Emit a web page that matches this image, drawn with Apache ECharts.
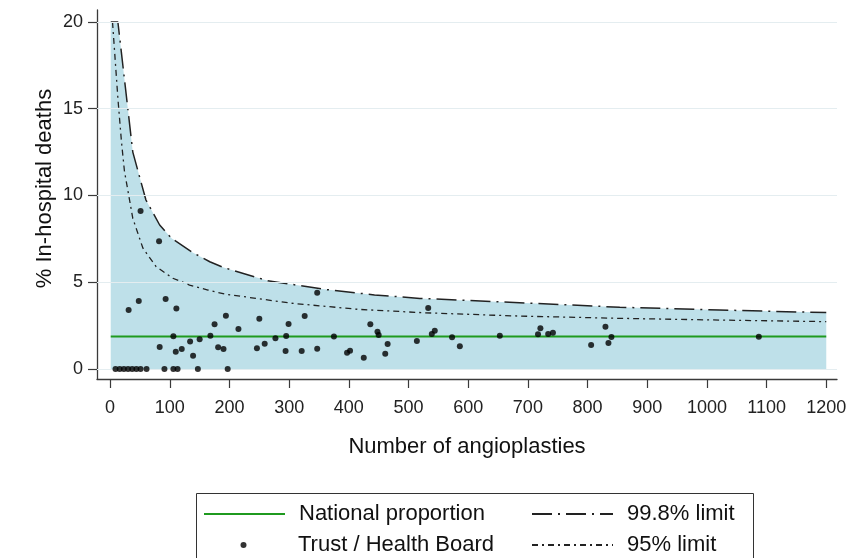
<!DOCTYPE html>
<html><head><meta charset="utf-8">
<script src="https://cdn.jsdelivr.net/npm/echarts@6/dist/echarts.min.js"></script>
<style>html,body{margin:0;padding:0;background:#fff}#c{width:859px;height:558px}</style>
</head><body><div id="c"></div>
<script>
// ---- data ----
const xTicks = [0,100,200,300,400,500,600,700,800,900,1000,1100,1200];
const yTicks = [0,5,10,15,20];
const nationalProportion = 1.88;
const nationalRange = [1, 1200];
// 99.8% control limit (capped at 20 by the plot)
const limit998 = [[1,20],[13,20],[38,12.5],[60,9.74],[83,8.3],[103,7.53],[136,6.76],[167,6.18],[190,5.85],[264,5.09],[359,4.59],[443,4.27],[519,4.07],[686,3.82],[854,3.56],[1021,3.40],[1200,3.25]];
// 95% control limit
const limit95 = [[4,20],[13,15.6],[19,13.1],[24,11.4],[38,8.68],[55,6.96],[77,5.9],[105,5.23],[133,4.84],[164,4.55],[192,4.32],[304,3.79],[415,3.44],[527,3.24],[686,3.05],[854,2.92],[1021,2.82],[1200,2.73]];
// Trusts / Health Boards: number of angioplasties and % in-hospital deaths
const trustN   = [9,16,23,30,37,44,51,61,91,106,113,147,197,
  31,48,51,82,93,111,175,194,106,150,168,83,110,120,134,139,181,190,
  347,250,326,299,215,436,448,450,465,514,295,375,277,259,246,294,321,347,397,402,425,461,
  533,544,539,573,586,653,721,717,734,742,830,840,835,806,1087];
const trustPct = [0,0,0,0,0,0,0,0,0,0,0,0,0,
  3.4,3.92,9.1,7.36,4.03,3.48,2.58,3.07,1.89,1.71,1.92,1.27,1.0,1.15,1.58,0.77,1.25,1.15,
  4.4,2.9,3.05,2.59,2.3,2.58,2.15,1.96,1.44,1.61,1.9,1.88,1.77,1.46,1.19,1.04,1.04,1.17,0.94,1.05,0.65,0.88,
  3.52,2.21,2.02,1.83,1.31,1.92,2.35,2.0,2.02,2.09,2.44,1.84,1.5,1.38,1.86];

const trustData = trustN.map((n, i) => [n, trustPct[i]]);
const nationalData = nationalRange.map(n => [n, nationalProportion]);

const FONT = "'Liberation Sans', Arial, sans-serif";
const AX = '#3a3a3a';
function mkLegend(item, left, top, iconW, iconH, textPad) {
  return {
    data: [item], orient: 'horizontal', left: left, top: top, padding: 0,
    itemWidth: iconW, itemHeight: iconH, selectedMode: false,
    textStyle: {fontFamily: FONT, fontSize: 22, color: '#111', lineHeight: 22, padding: [0, 0, 0, textPad]}
  };
}

const chart = echarts.init(document.getElementById('c'), null, {renderer: 'canvas'});
chart.setOption({
  animation: false,
  backgroundColor: '#ffffff',
  grid: {left: 97, right: 22, top: 10, bottom: 179},
  xAxis: {
    type: 'value', min: -22, max: 1218,
    name: 'Number of angioplasties', nameLocation: 'middle', nameGap: 57, nameMoveOverlap: false,
    nameTextStyle: {fontFamily: FONT, fontSize: 22, color: '#111'},
    axisLine: {show: true, onZero: false, lineStyle: {color: AX, width: 1.3}},
    axisTick: {show: true, length: 9, customValues: xTicks, lineStyle: {color: AX, width: 1.2}},
    axisLabel: {show: true, customValues: xTicks, margin: 20, fontFamily: FONT, fontSize: 18, color: '#222',
                formatter: v => String(v)},
    splitLine: {show: false}
  },
  yAxis: {
    type: 'value', min: -0.576, max: 20.69,
    name: '% In-hospital deaths', nameLocation: 'middle', nameGap: 41, nameMoveOverlap: false,
    nameTextStyle: {fontFamily: FONT, fontSize: 22, color: '#111', padding: [0, 0, 0, 12]},
    axisLine: {show: true, onZero: false, lineStyle: {color: AX, width: 1.3}},
    axisTick: {show: true, length: 9, customValues: yTicks, lineStyle: {color: AX, width: 1.2}},
    axisLabel: {show: true, customValues: yTicks, margin: 14, fontFamily: FONT, fontSize: 18, color: '#222',
                formatter: v => String(v)},
    splitLine: {show: false}
  },
  legend: [
    mkLegend({name: 'National proportion', itemStyle: {opacity: 0}}, 203, 503, 81, 6, 9),
    mkLegend({name: 'Trust / Health Board', icon: 'circle'}, 240.5, 534, 6, 6, 46.5),
    mkLegend({name: '99.8% limit', itemStyle: {opacity: 0}}, 531, 503, 81, 6, 9),
    mkLegend({name: '95% limit', itemStyle: {opacity: 0}}, 531, 534, 81, 6, 9)
  ],
  graphic: [
    {type: 'rect', left: 194, top: 491, shape: {width: 557, height: 80},
     style: {fill: 'none', stroke: '#333', lineWidth: 1}, silent: true}
  ],
  series: [
    {
      name: 'gridlines', type: 'line', data: [], z: 0, silent: true,
      markLine: {
        silent: true, symbol: 'none', label: {show: false},
        lineStyle: {color: '#e4edf0', width: 1.2, type: 'solid'},
        data: yTicks.map(v => ({yAxis: v}))
      }
    },
    {
      name: 'band', type: 'line', data: limit998, z: 1, silent: true,
      symbol: 'none', lineStyle: {width: 0},
      areaStyle: {color: '#bee0e9', opacity: 1, origin: 0}
    },
    {
      name: 'National proportion', type: 'line', data: nationalData, z: 3,
      symbol: 'none', color: '#1f9a1f', lineStyle: {color: '#1f9a1f', width: 2}
    },
    {
      name: '99.8% limit', type: 'line', data: limit998, z: 4,
      symbol: 'none', color: '#222',
      lineStyle: {color: '#222', width: 1.5, type: [20, 6, 2, 6]}
    },
    {
      name: '95% limit', type: 'line', data: limit95, z: 4,
      symbol: 'none', color: '#222',
      lineStyle: {color: '#222', width: 1.3, type: [6, 4, 2, 4]}
    },
    {
      name: 'Trust / Health Board', type: 'scatter', data: trustData, z: 5,
      symbol: 'circle', symbolSize: 6, itemStyle: {color: '#000'}
    }
  ]
});
</script>
</body></html>
